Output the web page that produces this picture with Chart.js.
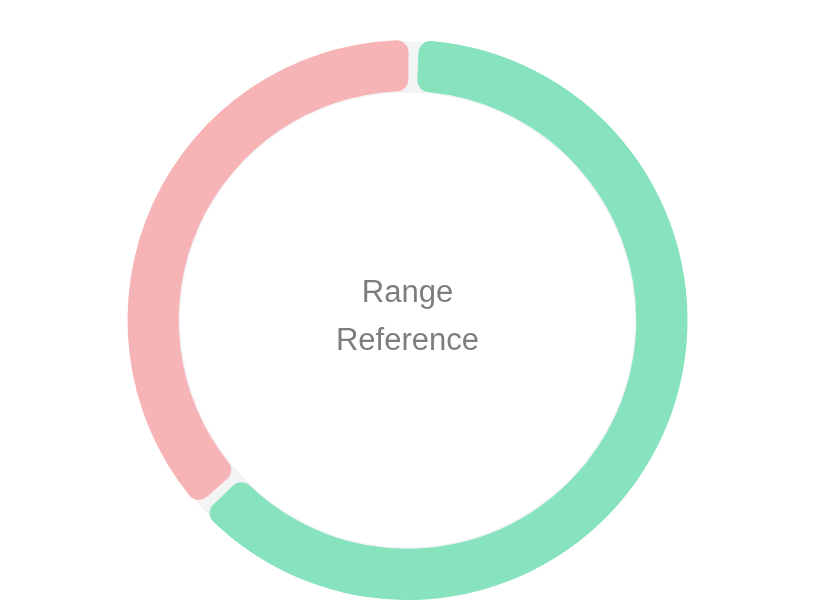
<!DOCTYPE html>
<html>
<head>
<meta charset="utf-8">
<script src="https://cdn.jsdelivr.net/npm/chart.js@4.4.1/dist/chart.umd.min.js"></script>
<style>
  html, body { margin: 0; padding: 0; background: #fff; }
  #wrap { width: 815px; height: 603px; position: relative; }
</style>
</head>
<body>
<div id="wrap"><canvas id="gauge"></canvas></div>
<script>
// values (share of the ring, clockwise from the top)
const labels = ['In range', 'Out of range'];
const values = [63, 37];
const colors = ['#86e3be', '#f7b4b6'];
const centerLines = ['Range', 'Reference'];
const gap = 6;

// grey track under the arcs, shows through the gaps
const trackPlugin = {
    id: 'track',
    beforeDatasetsDraw(chart) {
        const arc = chart.getDatasetMeta(0).data[0];
        if (!arc) return;
        const shift = gap / 4; // arcs get pushed out by this much when spacing is on
        const ctx = chart.ctx;
        ctx.save();
        ctx.beginPath();
        ctx.arc(arc.x, arc.y, arc.outerRadius + shift, 0, Math.PI * 2);
        ctx.arc(arc.x, arc.y, arc.innerRadius + shift, Math.PI * 2, 0, true);
        ctx.closePath();
        ctx.fillStyle = '#f3f4f6';
        ctx.fill();
        ctx.restore();
    }
};

// text in the middle of the ring
const centerText = {
    id: 'centerText',
    afterDraw(chart) {
        const arc = chart.getDatasetMeta(0).data[0];
        if (!arc) return;
        const ctx = chart.ctx;
        ctx.save();
        ctx.fillStyle = '#7d7d7d';
        ctx.font = '31px "Liberation Sans", Arial, sans-serif';
        ctx.textAlign = 'center';
        ctx.textBaseline = 'alphabetic';
        ctx.fillText(centerLines[0], arc.x, 302);
        ctx.fillText(centerLines[1], arc.x, 350);
        ctx.restore();
    }
};

new Chart(document.getElementById('gauge'), {
    type: 'doughnut',
    data: {
        labels: labels,
        datasets: [{
            data: values,
            backgroundColor: colors,
            borderWidth: 0,
            borderRadius: 12,
            spacing: gap
        }]
    },
    options: {
        responsive: true,
        maintainAspectRatio: false,
        animation: false,
        rotation: 1,
        cutout: '81.5%',
        layout: { padding: { top: 40, bottom: 3 } },
        plugins: {
            legend: { display: false },
            tooltip: { enabled: false }
        }
    },
    plugins: [trackPlugin, centerText]
});
</script>
</body>
</html>
